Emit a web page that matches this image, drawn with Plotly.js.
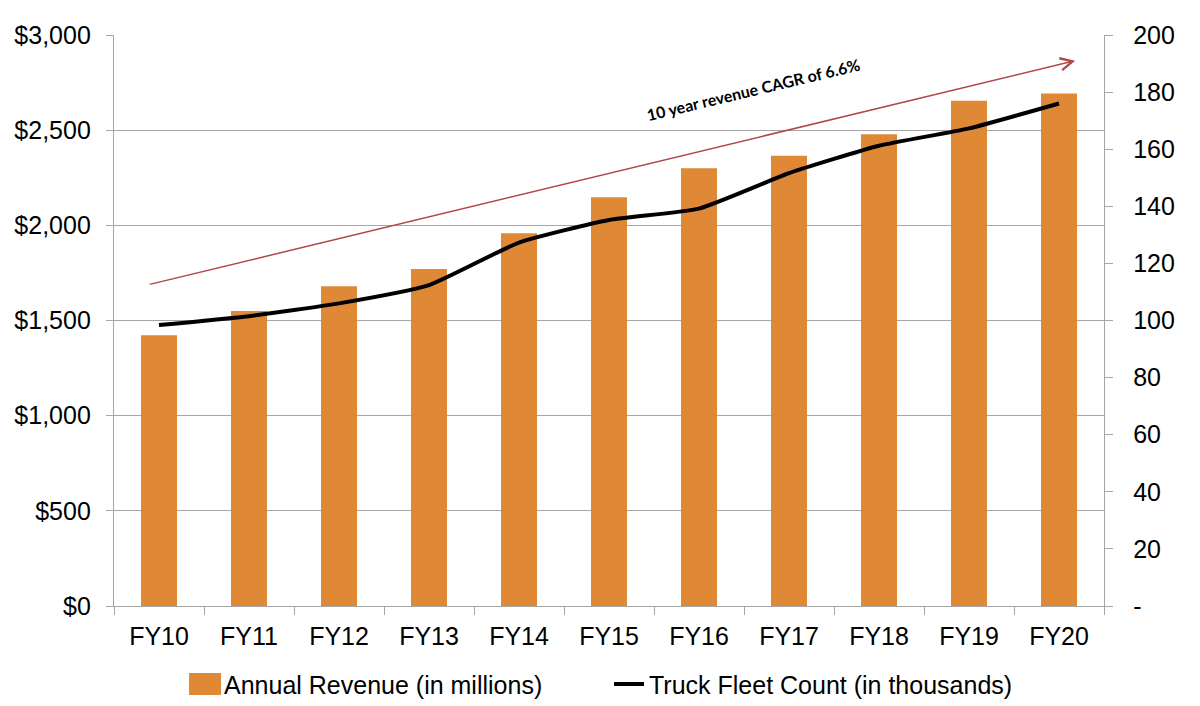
<!DOCTYPE html>
<html>
<head>
<meta charset="utf-8">
<script src="https://cdn.plot.ly/plotly-3.0.1.min.js"></script>
<style>html,body{margin:0;padding:0;background:#fff;}#chart{width:1200px;height:706px;}</style>
</head>
<body>
<div id="chart"></div>
<script>
const categories = ['FY10','FY11','FY12','FY13','FY14','FY15','FY16','FY17','FY18','FY19','FY20'];
const revenue = [1422, 1550, 1680, 1770, 1958, 2148, 2300, 2365, 2478, 2655, 2693];
const fleet = [98.4, 101.5, 106, 112.4, 127.3, 135.2, 139.2, 151.6, 161.2, 167.3, 176];
const rightTickVals = [0,20,40,60,80,100,120,140,160,180,200];
const rightTickText = ['-','20','40','60','80','100','120','140','160','180','200'];
const cagrText = '10 year revenue CAGR of 6.6%';
const arrowStart = [-0.12, 1688];
const arrowEnd = [10.18, 2865];

const grey = '#A6A6A6';
const font = 'Liberation Sans, Arial, sans-serif';

const data = [
  {type:'bar', name:'Annual Revenue (in millions)', x:categories, y:revenue,
   marker:{color:'#DF8836'}, width:0.4, yaxis:'y'},
  {type:'scatter', mode:'lines', name:'Truck Fleet Count (in thousands)', x:categories, y:fleet,
   line:{color:'#000000', width:4, shape:'spline', smoothing:0.5}, yaxis:'y2'}
];

const layout = {
  width:1200, height:706,
  margin:{l:114, r:96, t:35, b:100, autoexpand:false},
  paper_bgcolor:'#fff', plot_bgcolor:'#fff',
  font:{family:font, size:25, color:'#000'},
  showlegend:true,
  legend:{orientation:'h', x:0.5, xanchor:'center', y:-0.137, yanchor:'middle',
          font:{size:25}, itemwidth:30, traceorder:'normal', entrywidth:380, entrywidthmode:'pixels'},
  xaxis:{type:'category', showline:true, linecolor:grey, linewidth:1.2,
         ticks:'outside', tickson:'boundaries', ticklen:8, tickcolor:grey,
         showgrid:false, tickfont:{size:25}, ticklabelstandoff:8, fixedrange:true},
  yaxis:{range:[0,3000], dtick:500, tickprefix:'$', tickformat:',d',
         showline:true, linecolor:grey, linewidth:1.2, gridcolor:grey, gridwidth:1.2,
         ticks:'outside', ticklen:7, tickcolor:grey, zeroline:false,
         tickfont:{size:25}, ticklabelstandoff:10, fixedrange:true},
  yaxis2:{overlaying:'y', side:'right', range:[0,200], tickvals:rightTickVals, ticktext:rightTickText,
          showline:true, linecolor:grey, linewidth:1.2, showgrid:false, zeroline:false,
          ticks:'outside', ticklen:8, tickcolor:grey, tickfont:{size:25}, ticklabelstandoff:15, fixedrange:true},
  annotations:[
    {x:arrowEnd[0], y:arrowEnd[1], xref:'x', yref:'y', ax:arrowStart[0], ay:arrowStart[1],
     axref:'x', ayref:'y', text:'', showarrow:true, arrowhead:5, arrowsize:1.6, arrowwidth:1.5,
     arrowcolor:'#B0484A'},
    {x:6.6, y:2712, xref:'x', yref:'y', text:'<b>'+cagrText+'</b>', showarrow:false,
     textangle:-13.5, font:{family:'Lato, Liberation Sans, sans-serif', size:16, color:'#000'}}
  ]
};

Plotly.newPlot('chart', data, layout, {displayModeBar:false, staticPlot:true}).then(function(gd){
  // widen the bar legend swatch to a rectangle like the reference
  gd.querySelectorAll('.legend .traces').forEach(function(tr){
    tr.querySelectorAll('.legendpoints .legendbar path, path.legendundefined').forEach(function(p){
      p.setAttribute('d','M17,11H-15V-11H17Z');
    });
  });
});
</script>
</body>
</html>
